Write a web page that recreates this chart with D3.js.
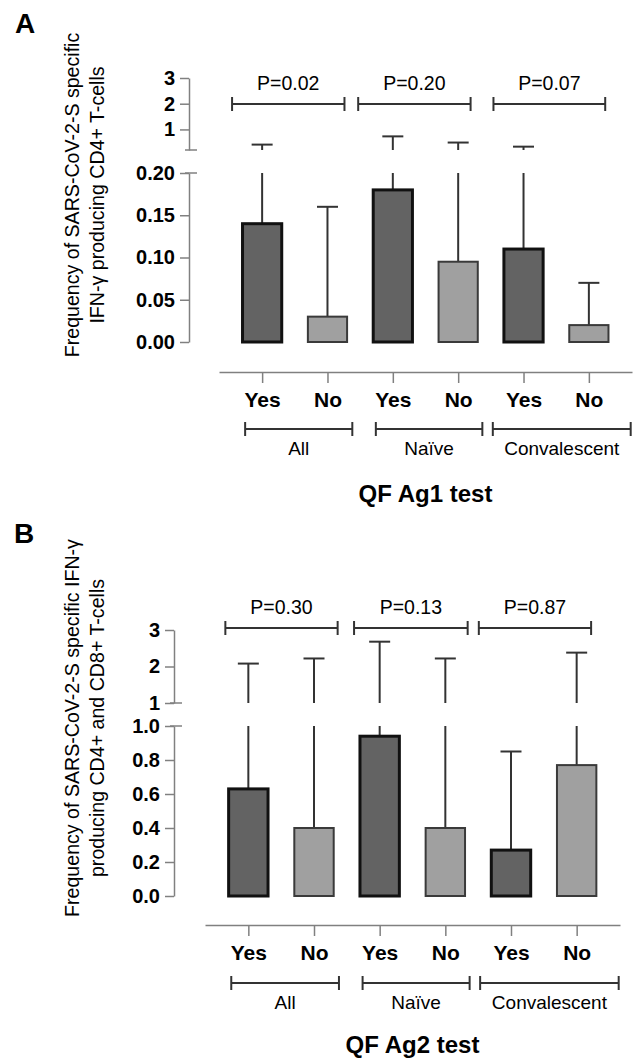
<!DOCTYPE html>
<html>
<head>
<meta charset="utf-8">
<script src="https://cdn.jsdelivr.net/npm/d3@7"></script>
<style>
  body { margin: 0; background: #fff; }
  svg { display: block; font-family: "Liberation Sans", Arial, sans-serif; }
</style>
</head>
<body>
<svg id="chart" width="636" height="1059"></svg>
<script>
// categories
var groups = ["All", "Naïve", "Convalescent"]
var answers = ["Yes", "No", "Yes", "No", "Yes", "No"]

// QF Ag1 test (panel A)
var ag1Means = [0.14, 0.03, 0.18, 0.095, 0.11, 0.02]
var ag1Upper = [0.41, 0.16, 0.73, 0.49, 0.33, 0.07]   // top of error bars
var ag1PValues = ["P=0.02", "P=0.20", "P=0.07"]
var ag1LowerTicks = [0, 0.05, 0.10, 0.15, 0.20]
var ag1UpperTicks = [1, 2, 3]

// QF Ag2 test (panel B)
var ag2Means = [0.63, 0.40, 0.94, 0.40, 0.27, 0.77]
var ag2Upper = [2.08, 2.22, 2.68, 2.22, 0.85, 2.38]
var ag2PValues = ["P=0.30", "P=0.13", "P=0.87"]
var ag2LowerTicks = [0, 0.2, 0.4, 0.6, 0.8, 1.0]
var ag2UpperTicks = [1, 2, 3]

var svg = d3.select("#chart")
var axisColor = "#808080"
var lineColor = "#333"

function drawPanel(p) {
    var g = svg.append("g")

    var x = d3.scaleLinear().domain([-0.66, 5.66]).range(p.xRange)
    var step = x(1) - x(0)
    var yLow = d3.scaleLinear().domain(p.lowerDomain).range(p.lowerRange)
    var yUp = d3.scaleLinear().domain(p.upperDomain).range(p.upperRange)
    var lowMax = p.lowerDomain[1]

    // panel letter
    g.append("text")
        .attr("x", p.letterX)
        .attr("y", p.letterY)
        .attr("font-size", 28)
        .attr("font-weight", "bold")
        .text(p.letter)

    // y title (two lines, rotated)
    g.append("g")
        .selectAll("text")
        .data(p.yTitle)
        .enter().append("text")
        .attr("transform", (d, i) => "translate(" + (79 + i * 25) + "," + p.yTitleCenter + ") rotate(-90)")
        .attr("text-anchor", "middle")
        .attr("font-size", 19.6)
        .text(d => d)

    // y axes (broken)
    var lowAxis = g.append("g")
        .attr("transform", "translate(" + p.spineX + ",0)")
        .call(d3.axisLeft(yLow).tickValues(p.lowerTicks).tickFormat(d3.format(p.lowerFormat)).tickSize(9).tickSizeOuter(0).tickPadding(5))
    var upAxis = g.append("g")
        .attr("transform", "translate(" + p.spineX + ",0)")
        .call(d3.axisLeft(yUp).tickValues(p.upperTicks).tickFormat(d3.format("d")).tickSize(9).tickSizeOuter(0).tickPadding(5))

    ;[lowAxis, upAxis].forEach(a => {
        a.select(".domain").attr("stroke", axisColor).attr("stroke-width", 1.5)
        a.selectAll(".tick line").attr("stroke", axisColor).attr("stroke-width", 1.5)
        a.selectAll(".tick text")
            .attr("fill", "#000")
            .attr("font-size", 20)
            .attr("font-weight", "bold")
            .attr("font-family", "Liberation Sans, Arial, sans-serif")
    })

    // break marks
    g.append("g")
        .selectAll("line")
        .data([yLow(lowMax), yUp(p.upperDomain[0])])
        .enter().append("line")
        .attr("x1", p.spineX - 4)
        .attr("x2", p.spineX + 8)
        .attr("y1", d => d)
        .attr("y2", d => d)
        .attr("stroke", axisColor)
        .attr("stroke-width", 1.5)

    // error bars
    var errG = g.append("g")
        .attr("stroke", lineColor)
        .attr("stroke-width", 2)
    var capHalf = 10.5
    p.means.forEach((m, i) => {
        var cx = x(i)
        var top = p.upper[i]
        if (top > lowMax) {
            errG.append("line").attr("x1", cx).attr("x2", cx).attr("y1", yLow(m)).attr("y2", yLow(lowMax))
            errG.append("line").attr("x1", cx).attr("x2", cx).attr("y1", yUp(p.upperDomain[0])).attr("y2", yUp(top))
            errG.append("line").attr("x1", cx - capHalf).attr("x2", cx + capHalf).attr("y1", yUp(top)).attr("y2", yUp(top))
        } else {
            errG.append("line").attr("x1", cx).attr("x2", cx).attr("y1", yLow(m)).attr("y2", yLow(top))
            errG.append("line").attr("x1", cx - capHalf).attr("x2", cx + capHalf).attr("y1", yLow(top)).attr("y2", yLow(top))
        }
    })

    // bars
    var barW = step * 0.6
    g.append("g")
        .selectAll("rect")
        .data(p.means)
        .enter().append("rect")
        .attr("x", (d, i) => x(i) - barW / 2)
        .attr("y", d => yLow(d))
        .attr("width", barW)
        .attr("height", d => yLow(0) - yLow(d))
        .attr("fill", (d, i) => answers[i] === "Yes" ? "#636363" : "#a0a0a0")
        .attr("stroke", (d, i) => answers[i] === "Yes" ? "#111" : "#3a3a3a")
        .attr("stroke-width", (d, i) => answers[i] === "Yes" ? 3 : 2)

    // p-value brackets
    var pG = g.append("g")
    p.pSpans.forEach((s, i) => {
        var b = pG.append("g").attr("stroke", lineColor).attr("stroke-width", 2)
        b.append("line").attr("x1", x(s[0])).attr("x2", x(s[1])).attr("y1", p.pY).attr("y2", p.pY)
        b.append("line").attr("x1", x(s[0])).attr("x2", x(s[0])).attr("y1", p.pY - 7).attr("y2", p.pY + 7)
        b.append("line").attr("x1", x(s[1])).attr("x2", x(s[1])).attr("y1", p.pY - 7).attr("y2", p.pY + 7)
        pG.append("text")
            .attr("x", x((s[0] + s[1]) / 2))
            .attr("y", p.pY - 14)
            .attr("text-anchor", "middle")
            .attr("font-size", 19.5)
            .text(p.pValues[i])
    })

    // x axis
    var xAxis = g.append("g")
        .attr("transform", "translate(0," + p.xAxisY + ")")
        .call(d3.axisBottom(x).tickValues(d3.range(answers.length)).tickFormat(i => answers[i]).tickSize(11).tickSizeOuter(0))
    xAxis.select(".domain").attr("stroke", axisColor).attr("stroke-width", 1.5)
    xAxis.selectAll(".tick line").attr("stroke", axisColor).attr("stroke-width", 1.5)
    xAxis.selectAll(".tick text")
        .attr("y", 35)
        .attr("dy", 0)
        .attr("fill", "#000")
        .attr("font-size", 21)
        .attr("font-weight", "bold")
        .attr("font-family", "Liberation Sans, Arial, sans-serif")

    // group brackets
    var grpG = g.append("g")
    groupSpans.forEach((s, i) => {
        var b = grpG.append("g").attr("stroke", lineColor).attr("stroke-width", 2)
        b.append("line").attr("x1", x(s[0])).attr("x2", x(s[1])).attr("y1", p.groupY).attr("y2", p.groupY)
        b.append("line").attr("x1", x(s[0])).attr("x2", x(s[0])).attr("y1", p.groupY - 7).attr("y2", p.groupY + 7)
        b.append("line").attr("x1", x(s[1])).attr("x2", x(s[1])).attr("y1", p.groupY - 7).attr("y2", p.groupY + 7)
        grpG.append("text")
            .attr("x", x((s[0] + s[1]) / 2))
            .attr("y", p.groupY + 26)
            .attr("text-anchor", "middle")
            .attr("font-size", 19)
            .text(groups[i])
    })

    // x title
    g.append("text")
        .attr("x", (p.xRange[0] + p.xRange[1]) / 2)
        .attr("y", p.titleY)
        .attr("text-anchor", "middle")
        .attr("font-size", 24)
        .attr("font-weight", "bold")
        .text(p.title)
}

// bracket spans in bar-slot units
var groupSpans = [[-0.26, 1.38], [1.74, 3.37], [3.53, 5.64]]

drawPanel({
    letter: "A", letterX: 15, letterY: 33,
    yTitle: ["Frequency of SARS-CoV-2-S specific", "IFN-γ producing CD4+ T-cells"],
    yTitleCenter: 195,
    means: ag1Means, upper: ag1Upper, pValues: ag1PValues,
    lowerTicks: ag1LowerTicks, upperTicks: ag1UpperTicks, lowerFormat: ".2f",
    lowerDomain: [0, 0.2], lowerRange: [342, 173],
    upperDomain: [0.2, 3], upperRange: [150, 78],
    spineX: 189, xRange: [219, 632],
    xAxisY: 372, groupY: 429, titleY: 502, pY: 104,
    pSpans: [[-0.46, 1.26], [1.47, 3.19], [3.54, 5.25]],
    title: "QF Ag1 test"
})

drawPanel({
    letter: "B", letterX: 14, letterY: 543,
    yTitle: ["Frequency of SARS-CoV-2-S specific IFN-γ", "producing CD4+ and CD8+ T-cells"],
    yTitleCenter: 728,
    means: ag2Means, upper: ag2Upper, pValues: ag2PValues,
    lowerTicks: ag2LowerTicks, upperTicks: ag2UpperTicks, lowerFormat: ".1f",
    lowerDomain: [0, 1], lowerRange: [896, 726],
    upperDomain: [1, 3], upperRange: [703, 630],
    spineX: 174, xRange: [205, 620],
    xAxisY: 925, groupY: 983, titleY: 1053, pY: 628,
    pSpans: [[-0.35, 1.36], [1.61, 3.34], [3.51, 5.22]],
    title: "QF Ag2 test"
})
</script>
</body>
</html>
